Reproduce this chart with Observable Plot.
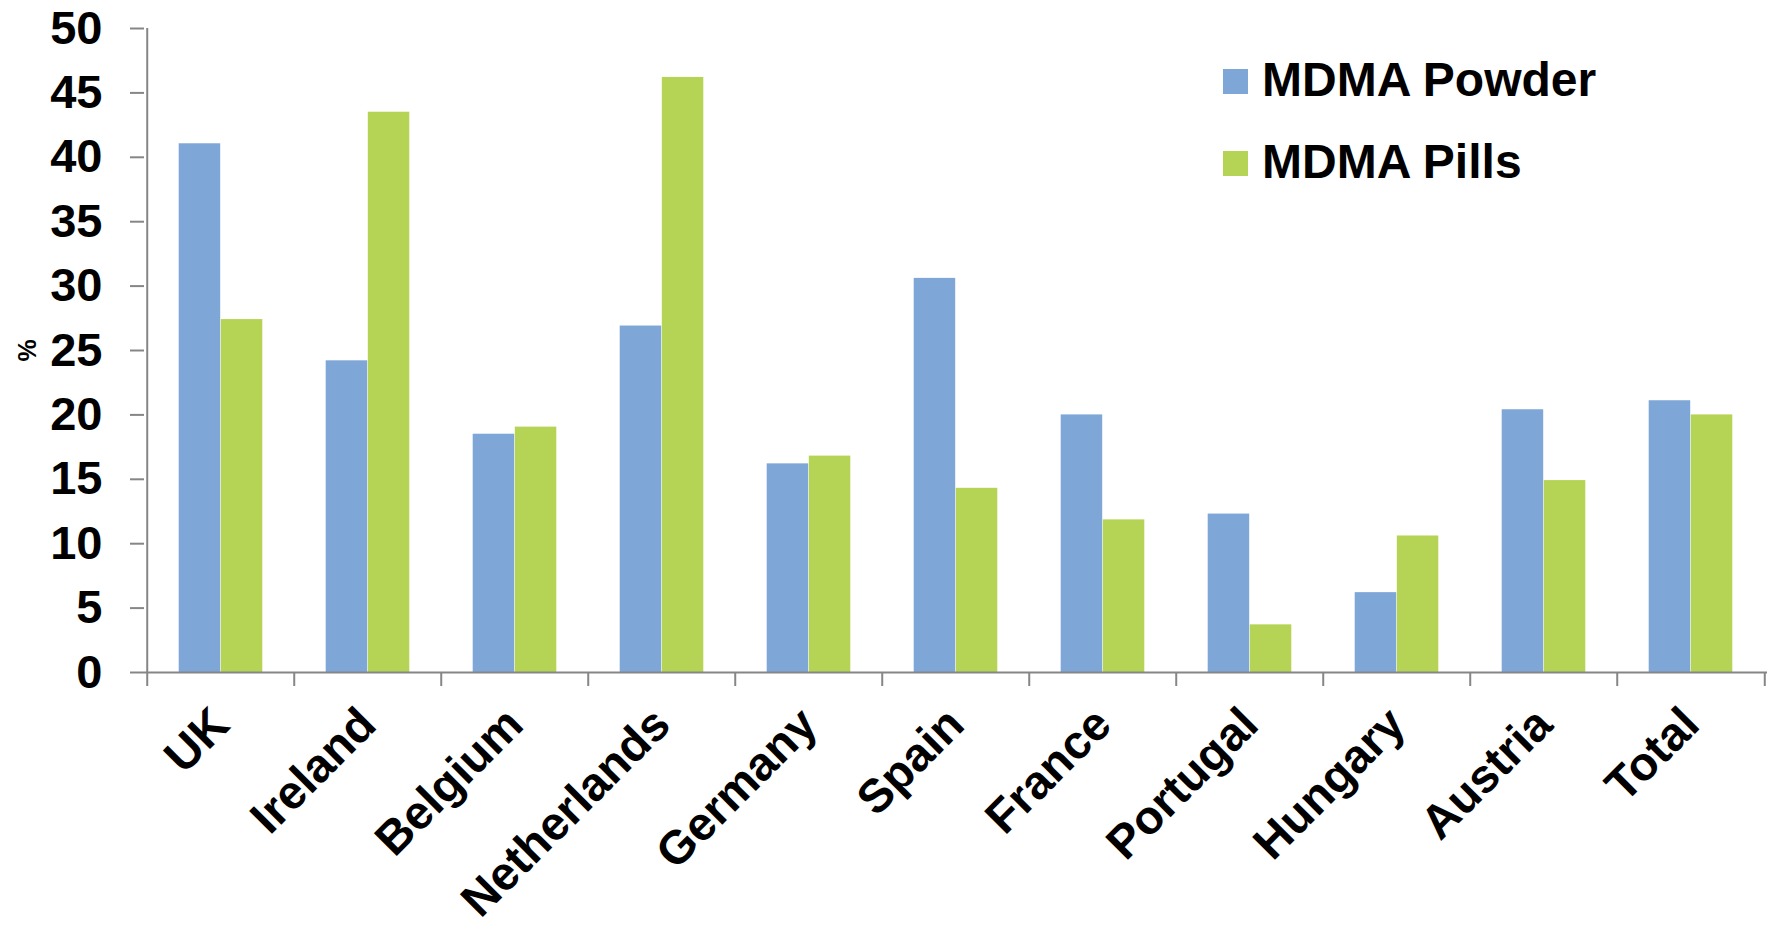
<!DOCTYPE html>
<html>
<head>
<meta charset="utf-8">
<script src="https://cdn.jsdelivr.net/npm/d3@7"></script>
<script src="https://cdn.jsdelivr.net/npm/@observablehq/plot@0.6"></script>
<style>
  html, body { margin: 0; padding: 0; background: #fff; }
  #wrap { position: relative; width: 1769px; height: 928px; font-family: "Liberation Sans", Arial, sans-serif; }
  .sw { position: absolute; width: 25px; height: 25px; }
  .lt { position: absolute; font-size: 48px; line-height: 48px; font-weight: bold; color: #000; white-space: nowrap; }
</style>
</head>
<body>
<div id="wrap"></div>
<script>
const countries = ["UK", "Ireland", "Belgium", "Netherlands", "Germany", "Spain", "France", "Portugal", "Hungary", "Austria", "Total"];
const powder = [41.05, 24.2, 18.5, 26.9, 16.2, 30.6, 20.0, 12.3, 6.2, 20.4, 21.1];
const pills  = [27.4, 43.5, 19.05, 46.2, 16.8, 14.3, 11.85, 3.7, 10.6, 14.9, 20.0];
const seriesNames = ["MDMA Powder", "MDMA Pills"];
const seriesColors = ["#7EA7D8", "#B5D455"];
const yTicks = [0, 5, 10, 15, 20, 25, 30, 35, 40, 45, 50];
const yLabel = "%";

const data = countries.map((c, i) => ({country: c, powder: powder[i], pills: pills[i]}));

const gray = "#868686";
const half = 73.77;

const chart = Plot.plot({
  width: 1769,
  height: 928,
  marginLeft: 144,
  marginRight: 2,
  marginTop: 28,
  marginBottom: 256,
  style: {fontFamily: "'Liberation Sans', Arial, sans-serif", fontWeight: "bold", color: "#000", background: "#fff", overflow: "visible"},
  x: {domain: countries, padding: 0, axis: null},
  y: {domain: [0, 50], axis: null},
  marks: [
    Plot.barY(data, {x: "country", y: "powder", fill: seriesColors[0], insetLeft: 31.7, insetRight: 73.8}),
    Plot.barY(data, {x: "country", y: "pills", fill: seriesColors[1], insetLeft: 73.8, insetRight: 31.7}),
    Plot.ruleY([0], {stroke: gray, strokeWidth: 2}),
    Plot.ruleX([countries[0]], {y1: 0, y2: 50, dx: -half, stroke: gray, strokeWidth: 2}),
    Plot.axisY(yTicks, {tickSize: 14, tickPadding: 28, fontSize: 47, stroke: gray, strokeWidth: 2, fill: "#000", label: null}),
    Plot.axisX(countries, {tickSize: 14, tickFormat: () => "", dx: -half, stroke: gray, strokeWidth: 2, label: null}),
    Plot.axisX([countries[countries.length - 1]], {tickSize: 14, tickFormat: () => "", dx: half, stroke: gray, strokeWidth: 2, label: null}),
    Plot.axisX(countries, {tickSize: 0, tickPadding: 44, tickRotate: -45, fontSize: 47, fill: "#000", label: null}),
    Plot.text([yLabel], {frameAnchor: "left", textAnchor: "middle", dx: -117, rotate: -90, fontSize: 25, fontWeight: "bold", fill: "#000"})
  ]
});

const wrap = document.getElementById("wrap");
wrap.appendChild(chart);

seriesNames.forEach((name, i) => {
  const sw = document.createElement("div");
  sw.className = "sw";
  sw.style.left = "1223px";
  sw.style.top = (69 + i * 82) + "px";
  sw.style.background = seriesColors[i];
  wrap.appendChild(sw);
  const t = document.createElement("div");
  t.className = "lt";
  t.style.left = "1262px";
  t.style.top = (56 + i * 82) + "px";
  t.textContent = name;
  wrap.appendChild(t);
});
</script>
</body>
</html>
